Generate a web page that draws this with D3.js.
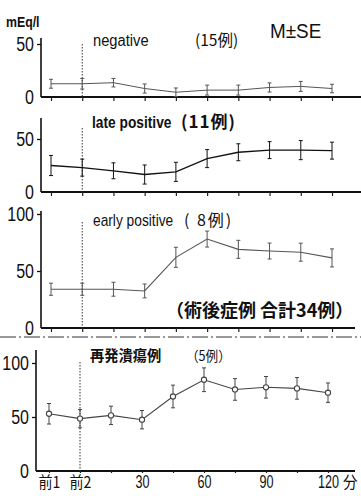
<!DOCTYPE html>
<html>
<head>
<meta charset="utf-8">
<script src="https://cdn.jsdelivr.net/npm/d3@7"></script>
<style>
  html, body { margin: 0; padding: 0; background: #fff; }
  svg { display: block; }
  .lbl { font-family: "Liberation Sans", "DejaVu Sans", sans-serif; fill: #111; }
  .jp { font-family: "Noto Sans CJK JP", sans-serif; fill: #111; }
</style>
</head>
<body>
<script>
// Sampling times (pre-op 1, pre-op 2, then minutes after stimulation)
const categories = ["前1", "前2", "15", "30", "45", "60", "75", "90", "105", "120"];
const xTickLabels = ["前1", "前2", "", "30", "", "60", "", "90", "", "120"];

// negative (15 cases), mEq/l, mean and SE
const negativeMean = [12.5, 12.5, 13.5, 8, 4.5, 6.5, 6.5, 9, 10, 8];
const negativeSE = [4.2, 5, 4, 4.3, 4, 4.7, 4.7, 4.3, 4.7, 4];

// late positive (11 cases)
const lateMean = [25, 23, 20, 16.5, 19, 31.5, 37.5, 39.5, 39.5, 39];
const lateSE = [9.5, 8, 7.5, 9, 9, 8.5, 8, 8, 9, 8];

// early positive (8 cases)
const earlyMean = [34, 34, 34, 32.5, 62, 78, 69, 67.5, 66.5, 61.5];
const earlySE = [5.3, 5.3, 6.1, 6.1, 8.8, 7, 7.9, 7, 7.9, 7.9];

// recurrent ulcer (5 cases)
const recurMean = [53, 48.5, 51.5, 47.5, 69, 84.5, 75.5, 77.5, 76.5, 72.5];
const recurSE = [9.5, 8.5, 8.5, 8.5, 10.5, 11, 10, 10, 10, 9];

const yTicks50 = [0, 50];
const yTicks100 = [0, 50, 100];

const svg = d3.select("body").append("svg")
  .attr("width", 361).attr("height", 496);

// narrow the lettering horizontally (typewriter-style condensed digits)
function condense(sel, f) {
  sel.each(function () {
    const t = d3.select(this);
    const x = +t.attr("x") || 0;
    t.attr("x", x / f).attr("transform", `scale(${f},1)`);
  });
}

// free text placed with a horizontal squeeze
function label(x, y, str, cls, size, f, weight, spacing) {
  svg.append("text").attr("class", cls)
    .attr("transform", `translate(${x},${y}) scale(${f},1)`)
    .style("font-size", size + "px")
    .style("font-weight", weight || "normal")
    .style("letter-spacing", (spacing || 0) + "px")
    .text(str);
}

const panels = [
  { mean: negativeMean, se: negativeSE, yMax: 50, ticks: yTicks50,
    axisX: 41, y0: 97, yTopPx: 44, axisTop: 38, xRange: [51, 332], baseEnd: 361,
    dotTop: 44, color: "#555", lineW: 1, markers: false },
  { mean: lateMean, se: lateSE, yMax: 50, ticks: yTicks50,
    axisX: 41, y0: 192, yTopPx: 139, axisTop: 118, xRange: [51, 332], baseEnd: 361,
    dotTop: 128, color: "#111", lineW: 1.3, markers: false },
  { mean: earlyMean, se: earlySE, yMax: 100, ticks: yTicks100,
    axisX: 41, y0: 328, yTopPx: 214, axisTop: 211, xRange: [51, 332], baseEnd: 355,
    dotTop: 222, color: "#555", lineW: 1.1, markers: false },
  { mean: recurMean, se: recurSE, yMax: 100, ticks: yTicks100,
    axisX: 36, y0: 471, yTopPx: 363, axisTop: 350, xRange: [49, 328], baseEnd: 355,
    dotTop: 362, color: "#444", lineW: 1.1, markers: true }
];

panels.forEach((p, i) => {
  const g = svg.append("g");
  const x = d3.scalePoint().domain(categories).range(p.xRange);
  const y = d3.scaleLinear().domain([0, p.yMax]).range([p.y0, p.yTopPx]);

  // y axis line and ticks
  g.append("line")
    .attr("x1", p.axisX).attr("x2", p.axisX)
    .attr("y1", p.axisTop).attr("y2", p.y0)
    .attr("stroke", "#111").attr("stroke-width", 1.6);
  const yAxis = g.append("g")
    .attr("transform", `translate(${p.axisX},0)`)
    .call(d3.axisLeft(y).tickValues(p.ticks).tickSize(4).tickSizeOuter(0).tickPadding(3));
  yAxis.select(".domain").remove();
  yAxis.selectAll(".tick line").attr("stroke", "#111").attr("stroke-width", 1.3);
  yAxis.selectAll(".tick text")
    .attr("class", "lbl")
    .style("font-size", "20px")
    .attr("fill", "#111")
    .call(condense, 0.8);
  yAxis.selectAll(".tick").filter(d => d === 0).select("line").remove();

  // baseline and x ticks
  g.append("line")
    .attr("x1", p.axisX).attr("x2", p.baseEnd)
    .attr("y1", p.y0).attr("y2", p.y0)
    .attr("stroke", "#111").attr("stroke-width", 1.8);
  const xAxis = g.append("g")
    .attr("transform", `translate(0,${p.y0})`)
    .call(d3.axisBottom(x).tickSize(i === 3 ? 2 : 4).tickPadding(2)
      .tickFormat((d, k) => i === 3 ? xTickLabels[k] : ""));
  xAxis.select(".domain").remove();
  xAxis.selectAll(".tick line").attr("stroke", "#222").attr("stroke-width", 1.2);
  const xt = xAxis.selectAll(".tick text")
    .attr("class", "lbl")
    .style("font-size", "18px")
    .attr("fill", "#111");
  xt.filter(d => !d.startsWith("前")).call(condense, 0.7);
  xt.filter(d => d.startsWith("前"))
    .attr("class", "jp").style("font-size", "16px").attr("dy", "0.8em")
    .call(condense, 0.88);

  // dotted reference line at 前2
  g.append("line")
    .attr("x1", x("前2")).attr("x2", x("前2"))
    .attr("y1", p.dotTop).attr("y2", p.y0)
    .attr("stroke", "#333").attr("stroke-width", 1)
    .attr("stroke-dasharray", "1.5,1.5");

  // error bars
  const bars = g.append("g");
  categories.forEach((c, k) => {
    const cx = x(c);
    const hi = y(p.mean[k] + p.se[k]);
    const lo = y(p.mean[k] - p.se[k]);
    bars.append("line").attr("x1", cx).attr("x2", cx).attr("y1", hi).attr("y2", lo)
      .attr("stroke", p.color).attr("stroke-width", 1);
    [hi, lo].forEach(yy => bars.append("line")
      .attr("x1", cx - 2).attr("x2", cx + 2).attr("y1", yy).attr("y2", yy)
      .attr("stroke", p.color).attr("stroke-width", 1));
  });

  // mean line
  const line = d3.line().x((d, k) => x(categories[k])).y(d => y(d)).curve(d3.curveLinear);
  g.append("path").datum(p.mean)
    .attr("d", line)
    .attr("fill", "none")
    .attr("stroke", p.color)
    .attr("stroke-width", p.lineW);

  if (p.markers) {
    g.selectAll("circle.m").data(p.mean).enter().append("circle")
      .attr("cx", (d, k) => x(categories[k]))
      .attr("cy", d => y(d))
      .attr("r", 2.6)
      .attr("fill", "#fff")
      .attr("stroke", p.color)
      .attr("stroke-width", 1.1);
  }
});

// unit label on the time axis
label(343, 488, "分", "jp", 16, 0.9);

// header texts
label(6, 27, "mEq/l", "lbl", 14, 0.88, "bold");
label(270, 38, "M±SE", "lbl", 21, 0.9);

// panel titles
label(93, 46, "negative", "lbl", 16, 0.92);
label(195, 46, "(15例)", "jp", 16, 0.97);

label(92, 128, "late positive", "lbl", 16, 0.86, "bold");
label(181, 128, "(11例)", "jp", 17, 1.0, "bold", 1);

label(93, 226, "early positive", "lbl", 16, 0.86);
label(184, 226, "( 8例)", "jp", 16, 1.0, "normal", 2);

label(166, 317, "（術後症例 合計34例）", "jp", 18, 1.0, "bold");

label(90, 361, "再発潰瘍例", "jp", 15, 0.95, "bold");
label(186, 361, "（5例）", "jp", 14, 0.9);

// dash-dot separator between the postoperative panels and the recurrent group
svg.append("line")
  .attr("x1", 0).attr("x2", 361).attr("y1", 337).attr("y2", 337)
  .attr("stroke", "#333").attr("stroke-width", 1.2)
  .attr("stroke-dasharray", "16,3,2,3");
</script>
</body>
</html>
